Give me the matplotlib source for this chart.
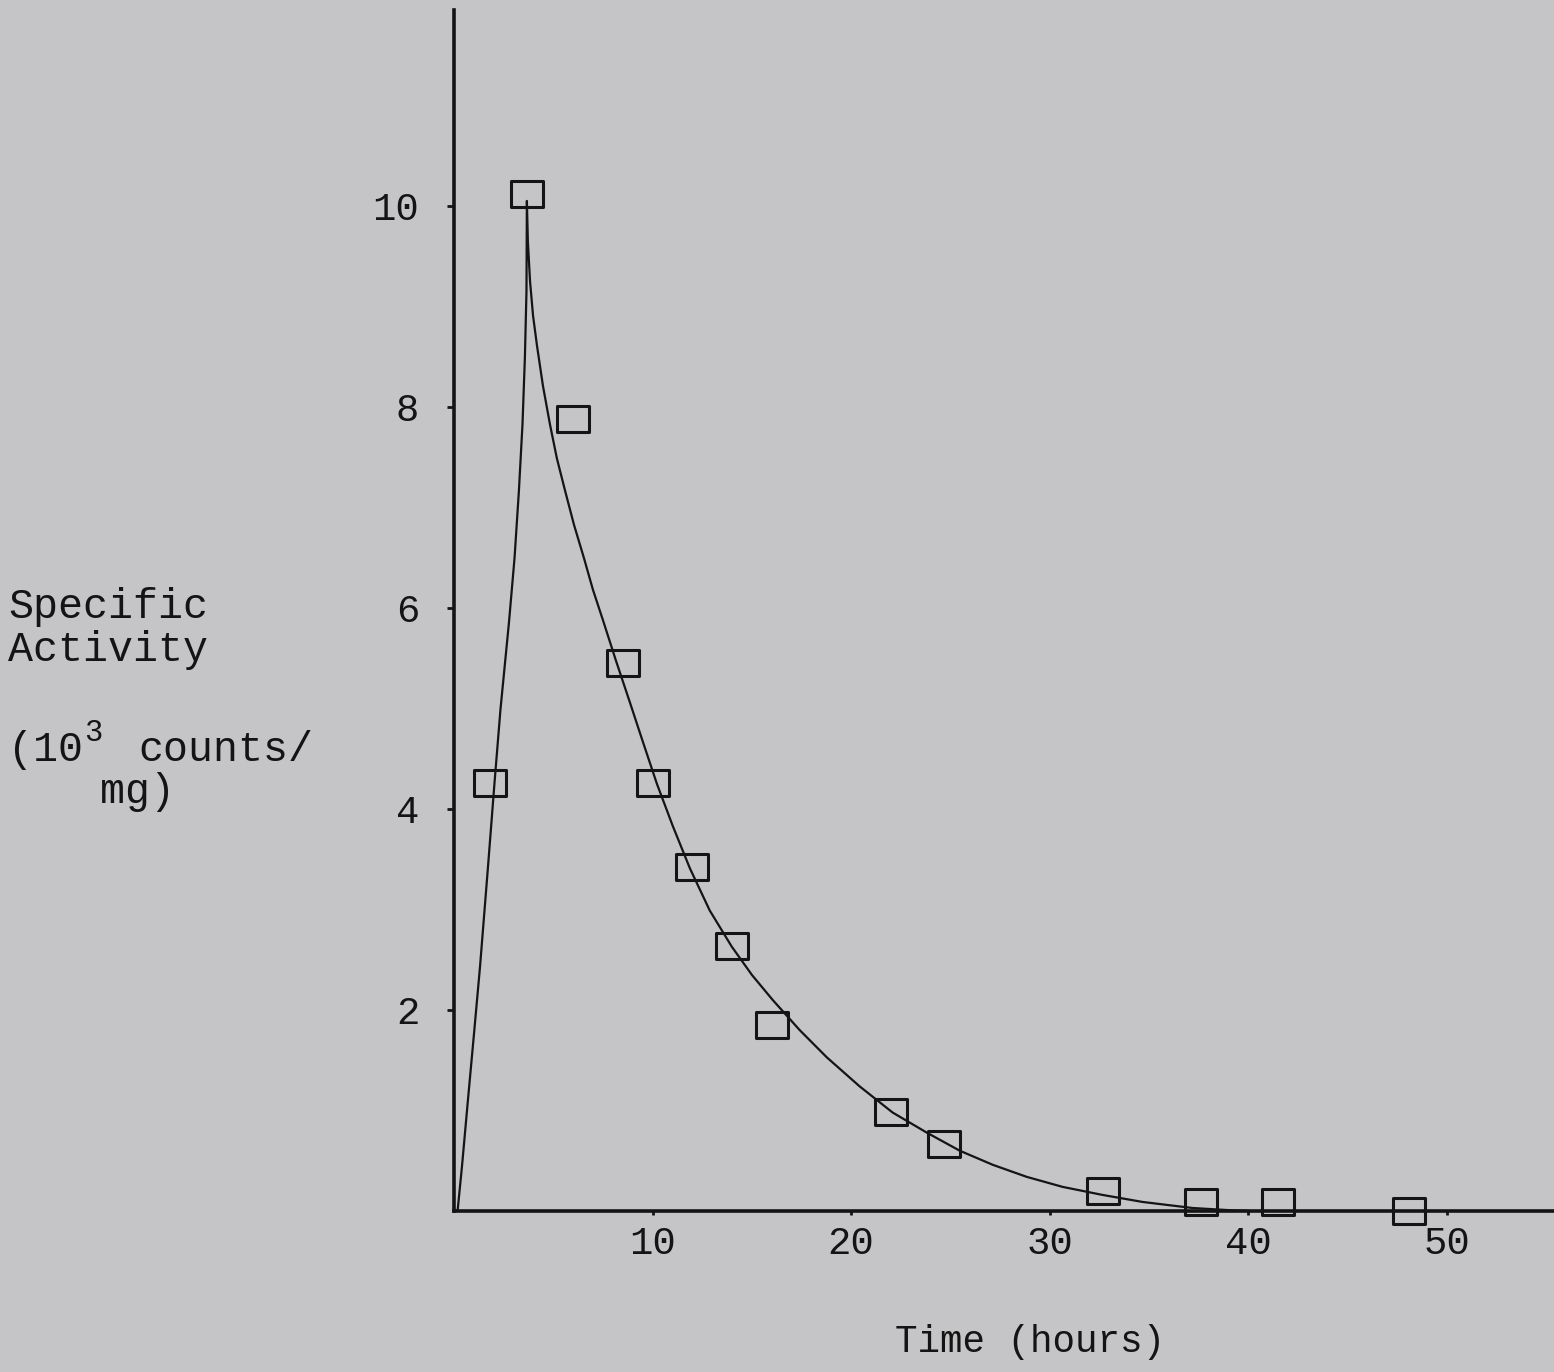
import matplotlib.pyplot as plt
from matplotlib.path import Path

# measured activity (squares)
time_h = [1.8, 3.7, 6.0, 8.5, 10.0, 12.0, 14.0, 16.0, 22.0, 24.7, 32.7, 37.6, 41.5, 48.1]
activity = [4.26, 10.12, 7.88, 5.45, 4.26, 3.42, 2.64, 1.85, 0.99, 0.67, 0.20, 0.09, 0.09, 0.0]

# hand drawn fitted curve
rise_t = [0.18, 0.40, 0.70, 1.01, 1.31, 1.71, 2.04, 2.34, 2.77, 3.05, 3.27, 3.45, 3.57, 3.65, 3.67]
rise_a = [0.0, 0.44, 1.10, 1.77, 2.43, 3.42, 4.26, 4.99, 5.86, 6.50, 7.17, 7.83, 8.49, 9.15, 10.05]

decay_t = [3.72, 3.83, 3.98, 4.18, 4.48, 4.83, 5.18, 5.59, 6.04, 6.54, 7.00, 7.50, 8.15, 8.86,
           9.51, 10.22, 11.02, 11.88, 12.88, 13.99, 15.00, 16.05, 17.41, 18.77, 20.43, 22.09,
           23.81, 25.47, 27.13, 28.84, 30.65, 32.66, 34.68, 37.19, 38.90, 40.06]
decay_a = [9.65, 9.25, 8.91, 8.61, 8.21, 7.83, 7.49, 7.17, 6.83, 6.50, 6.18, 5.88, 5.48, 5.06,
           4.67, 4.25, 3.83, 3.41, 2.99, 2.63, 2.35, 2.10, 1.80, 1.53, 1.24, 0.98,
           0.78, 0.60, 0.46, 0.34, 0.24, 0.16, 0.09, 0.03, 0.01, 0.0]

xticks = [10, 20, 30, 40, 50]
yticks = [2, 4, 6, 8, 10]

W, H = 1554, 1372
bg = '#c5c5c7'
ink = '#141414'
font = 'Liberation Mono'

fig = plt.figure(figsize=(W / 100, H / 100), dpi=100, facecolor=bg)
ax = fig.add_axes([454 / W, (H - 1211) / H, 1 - 454 / W, (1211 - 10) / H])
ax.set_facecolor(bg)

ax.plot(rise_t + decay_t, rise_a + decay_a, color=ink, lw=1.6, clip_on=False,
        solid_joinstyle='round')

# slightly flat rectangle like the typewriter box
box = Path([(-1, -0.8), (1, -0.8), (1, 0.8), (-1, 0.8), (-1, -0.8)],
           [Path.MOVETO, Path.LINETO, Path.LINETO, Path.LINETO, Path.CLOSEPOLY])
ax.plot(time_h, activity, ls='none', marker=box, ms=23, mfc='none', mec=ink, mew=2.2,
        clip_on=False)

ax.set_xlim(0, 55.4)
ax.set_ylim(0, 11.95)
for s in ['top', 'right']:
    ax.spines[s].set_visible(False)
for s in ['left', 'bottom']:
    ax.spines[s].set_linewidth(2.6)
    ax.spines[s].set_color(ink)

ax.set_xticks(xticks)
ax.set_xticklabels([str(t) for t in xticks], fontfamily=font, fontsize=28, color=ink)
ax.set_yticks(yticks)
ax.set_yticklabels([str(t) for t in yticks], fontfamily=font, fontsize=28, color=ink)
ax.tick_params(axis='x', length=3, width=2, color=ink, pad=8)
ax.tick_params(axis='y', length=5, width=2, color=ink, pad=20)


def ftext(x, y, s, **kw):
    fig.text(x / W, 1 - y / H, s, fontfamily=font, color=ink, **kw)


ftext(8, 607, 'Specific', fontsize=30, va='center')
ftext(8, 650, 'Activity', fontsize=30, va='center')
ftext(8, 750, '(10', fontsize=30, va='center')
ftext(84, 733, '3', fontsize=22, va='center')
ftext(138, 750, 'counts/', fontsize=30, va='center')
ftext(100, 792, 'mg)', fontsize=30, va='center')
ftext(1030, 1342, 'Time (hours)', fontsize=27, va='center', ha='center')

fig.savefig('out.png', dpi=100, facecolor=bg)
